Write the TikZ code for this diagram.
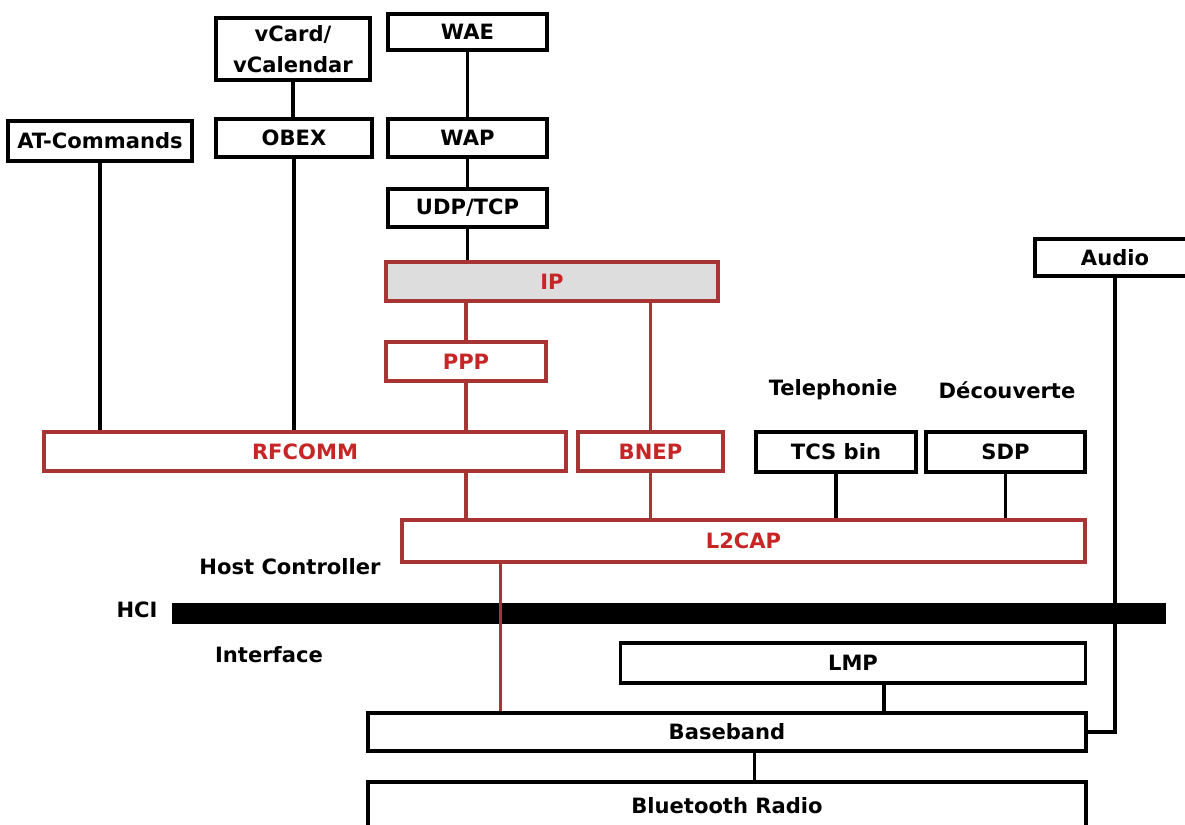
\documentclass[tikz,border=0pt]{standalone}
\usepackage{fontspec}
\setmainfont{DejaVu Sans}
\usepackage{xcolor}
\definecolor{stackred}{HTML}{A83434}
\definecolor{stacktext}{HTML}{C62626}
\definecolor{ipgray}{HTML}{DDDDDD}

\begin{document}
\begin{tikzpicture}[
  x=0.02cm, y=-0.02cm,
  every node/.style={font=\fontsize{12}{14}\selectfont\bfseries, inner sep=0pt},
  layer/.style={rectangle, draw, line width=2pt, fill=white, align=center},
  redlayer/.style={layer, draw=stackred, text=stacktext},
  link/.style={line width=2pt},
  redlink/.style={link, draw=stackred},
]
\useasboundingbox (0,0) rectangle (1185,824);

\node[layer, minimum width=3.08cm, minimum height=1.24cm] (vcard) at (293,49) {vCard/\\[4pt]vCalendar};
\node[layer, minimum width=3.18cm, minimum height=0.72cm] (wae) at (467.5,32) {WAE};
\node[layer, minimum width=3.68cm, minimum height=0.80cm] (atcmd) at (100,141) {AT-Commands};
\node[layer, minimum width=3.12cm, minimum height=0.76cm] (obex) at (294,138) {OBEX};
\node[layer, minimum width=3.18cm, minimum height=0.76cm] (wap) at (467.5,138) {WAP};
\node[layer, minimum width=3.18cm, minimum height=0.76cm] (udptcp) at (467.5,208) {UDP/TCP};
\node[redlayer, fill=ipgray, minimum width=6.64cm, minimum height=0.78cm] (ip) at (552,281.5) {IP};
\node[redlayer, minimum width=3.20cm, minimum height=0.78cm] (ppp) at (466,361.5) {PPP};
\node[redlayer, minimum width=10.44cm, minimum height=0.78cm] (rfcomm) at (305,451.5) {RFCOMM};
\node[redlayer, minimum width=2.90cm, minimum height=0.78cm] (bnep) at (650.5,451.5) {BNEP};
\node (telephonie) at (833,390) {Telephonie};
\node (decouverte) at (1007,390) {Découverte};
\node[layer, minimum width=3.20cm, minimum height=0.80cm] (tcs) at (836,452) {TCS bin};
\node[layer, minimum width=3.18cm, minimum height=0.80cm] (sdp) at (1005.5,452) {SDP};
\node[layer, minimum width=3.20cm, minimum height=0.74cm] (audio) at (1115,257.5) {Audio};
\node[redlayer, minimum width=13.66cm, minimum height=0.84cm] (l2cap) at (743.5,541) {L2CAP};
\node (hostctl) at (290,567) {Host Controller};
\node[fill=black, minimum width=19.88cm, minimum height=0.42cm] (hci) at (669,613) {};
\node (hcilabel) at (137,610) {HCI};
\node (interface) at (269,655) {Interface};
\node[layer, minimum width=9.30cm, minimum height=0.80cm] (lmp) at (853,663) {LMP};
\node[layer, minimum width=14.36cm, minimum height=0.76cm] (baseband) at (727,732) {Baseband};
\node[layer, minimum width=14.36cm, minimum height=0.96cm] (radio) at (727,806) {Bluetooth Radio};

\draw[link] (vcard.south) -- (vcard.south |- obex.north);
\draw[link] (wae.south) -- (wae.south |- wap.north);
\draw[link] (wap.south) -- (wap.south |- udptcp.north);
\draw[link] (udptcp.south) -- (udptcp.south |- ip.north);
\draw[link] (atcmd.south) -- (atcmd.south |- rfcomm.north);
\draw[link] (obex.south) -- (obex.south |- rfcomm.north);
\draw[redlink] (ppp.north) -- (ppp.north |- ip.south);
\draw[redlink] (bnep.north) -- (bnep.north |- ip.south);
\draw[redlink] (ppp.south) -- (ppp.south |- rfcomm.north);
\draw[redlink] (ppp.south |- rfcomm.south) -- (ppp.south |- l2cap.north);
\draw[redlink] (bnep.south) -- (bnep.south |- l2cap.north);
\draw[link] (tcs.south) -- (tcs.south |- l2cap.north);
\draw[link] (sdp.south) -- (sdp.south |- l2cap.north);
\draw[redlink] (l2cap.south west) ++(100,0) coordinate (l2link) -- (l2link |- baseband.north);
\draw[link] (lmp.south west) ++(265,0) coordinate (lmplink) -- (lmplink |- baseband.north);
\draw[link] (baseband.south west) ++(388,0) coordinate (radiolink) -- (radiolink |- radio.north);
\draw[link] (audio.south) |- (baseband.east);
\end{tikzpicture}
\end{document}
